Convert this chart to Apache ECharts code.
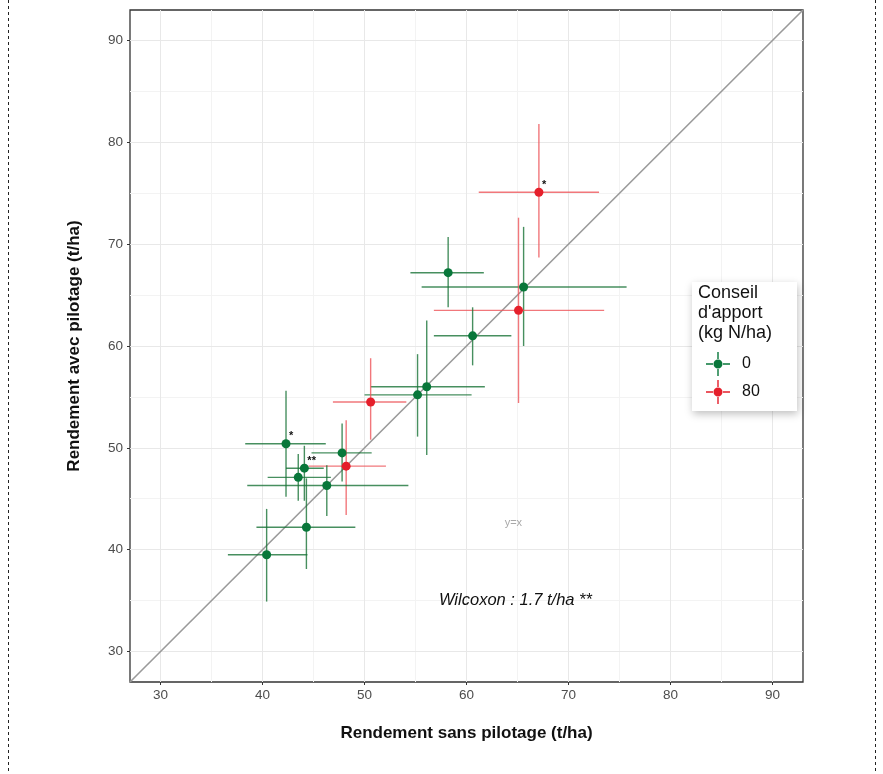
<!DOCTYPE html>
<html>
<head>
<meta charset="utf-8">
<script src="https://cdn.jsdelivr.net/npm/echarts@6/dist/echarts.min.js"></script>
<style>
html, body { margin: 0; padding: 0; background: #fff; }
#chart { width: 883px; height: 774px; }
</style>
</head>
<body>
<div id="chart"></div>
<script>
// donnees (t/ha)
var groups = ['80', '0', '0', '80', '0', '0', '0', '80', '0', '0', '80', '0', '0', '0', '0', '0'];
var sansPilotage = [67.1, 58.2, 65.6, 65.1, 60.6, 56.1, 55.2, 50.6, 42.3, 47.8, 48.2, 44.1, 43.5, 46.3, 44.3, 40.4];
var avecPilotage = [75.1, 67.2, 65.8, 63.5, 61.0, 56.0, 55.2, 54.5, 50.4, 49.5, 48.2, 48.0, 47.1, 46.3, 42.2, 39.5];
var xMin = [61.2, 54.5, 55.6, 56.8, 56.8, 50.6, 50.0, 46.9, 38.3, 44.8, 44.5, 42.3, 40.5, 38.5, 39.4, 36.6];
var xMax = [73.0, 61.7, 75.7, 73.5, 64.4, 61.8, 60.5, 54.1, 46.2, 50.7, 52.1, 46.0, 46.7, 54.3, 49.1, 44.4];
var yMin = [68.7, 63.8, 60.0, 54.4, 58.1, 49.3, 51.1, 50.8, 45.2, 46.7, 43.4, 44.8, 44.8, 43.3, 38.1, 34.9];
var yMax = [81.8, 70.7, 71.7, 72.6, 63.8, 62.5, 59.2, 58.8, 55.6, 52.4, 52.7, 50.2, 49.4, 48.3, 47.0, 44.0];
var stars = ['*', '', '', '', '', '', '', '', '*', '', '', '**', '', '', '', ''];
var majorTicks = [30, 40, 50, 60, 70, 80, 90];
var minorTicks = [35, 45, 55, 65, 75, 85];
var axisMin = 27, axisMax = 93;
// annotations: [x, y, texte]
var annotations = [[64.6, 42.6, 'y=x'], [64.8, 35.0, 'Wilcoxon : 1.7 t/ha **']];

var couleurs = { '0': '#08773a', '80': '#e51f2b' };
var couleursBarres = { '0': 'rgba(25,115,55,0.8)', '80': 'rgba(238,85,90,0.8)' };

var chart = echarts.init(document.getElementById('chart'));

// points par groupe
function pointsDe(g) {
  var out = [];
  for (var i = 0; i < groups.length; i++) {
    if (groups[i] === g) out.push([sansPilotage[i], avecPilotage[i]]);
  }
  return out;
}

var barres = [];
for (var i = 0; i < groups.length; i++) {
  barres.push([xMin[i], xMax[i], yMin[i], yMax[i], sansPilotage[i], avecPilotage[i]]);
}

// croix d'erreur + etoiles
function renderBarre(params, api) {
  var i = params.dataIndex;
  var g = groups[i];
  var x = api.value(4), y = api.value(5);
  var l = api.coord([api.value(0), y]);
  var r = api.coord([api.value(1), y]);
  var b = api.coord([x, api.value(2)]);
  var t = api.coord([x, api.value(3)]);
  var c = api.coord([x, y]);
  var style = { stroke: couleursBarres[g], lineWidth: 1.4 };
  var children = [
    { type: 'line', shape: { x1: l[0], y1: l[1], x2: r[0], y2: r[1] }, style: style },
    { type: 'line', shape: { x1: b[0], y1: b[1], x2: t[0], y2: t[1] }, style: style }
  ];
  if (stars[i]) {
    children.push({
      type: 'text',
      style: {
        text: stars[i], x: c[0] + 3, y: c[1] - 2,
        fill: '#111', font: 'bold 11px "Liberation Sans", Arial',
        textVerticalAlign: 'bottom'
      }
    });
  }
  return { type: 'group', children: children };
}

function renderTexte(params, api) {
  var i = params.dataIndex;
  var p = api.coord([api.value(0), api.value(1)]);
  var txt = annotations[i][2];
  var font = i === 0 ? '11px "Liberation Sans", Arial' : 'italic 16.5px "Liberation Sans", Arial';
  return {
    type: 'text',
    style: {
      text: txt, x: p[0], y: p[1], font: font,
      fill: i === 0 ? '#a8a8a8' : '#111',
      textAlign: 'center', textVerticalAlign: 'middle'
    }
  };
}

// grille majeure et mineure
var gridLines = [];
minorTicks.forEach(function (v) {
  gridLines.push({ xAxis: v, lineStyle: { color: '#f3f3f3', width: 1 } });
  gridLines.push({ yAxis: v, lineStyle: { color: '#f3f3f3', width: 1 } });
});
majorTicks.forEach(function (v) {
  gridLines.push({ xAxis: v, lineStyle: { color: '#e8e8e8', width: 1 } });
  gridLines.push({ yAxis: v, lineStyle: { color: '#e8e8e8', width: 1 } });
});

var iconCroix = 'path://M0 11.3h7v1.4h-7z M17 11.3h7v1.4h-7z M11.3 0h1.4v7h-1.4z M11.3 17h1.4v7h-1.4z ' +
  'M7.5 12a4.5 4.5 0 1 1 9 0a4.5 4.5 0 1 1 -9 0z';

function axe(nom, gap, margin) {
  return {
    type: 'value', min: axisMin, max: axisMax,
    name: nom,
    nameLocation: 'middle', nameGap: gap,
    nameTextStyle: { fontSize: 17, fontWeight: 'bold', color: '#111' },
    axisLine: { show: false },
    axisTick: { show: true, length: 3, lineStyle: { color: '#333' }, customValues: majorTicks },
    axisLabel: {
      color: '#4d4d4d', fontSize: 13.5, margin: margin, customValues: majorTicks,
      formatter: function (v) { return v % 10 === 0 ? v : ''; }
    },
    splitLine: { show: false }
  };
}

var option = {
  animation: false,
  backgroundColor: '#fff',
  textStyle: { fontFamily: '"Liberation Sans", Arial, sans-serif' },
  grid: {
    left: 130, top: 10, width: 673, height: 672,
    show: true, borderColor: '#333', borderWidth: 1.3, backgroundColor: '#fff'
  },
  xAxis: axe('Rendement sans pilotage (t/ha)', 43, 6),
  yAxis: axe('Rendement avec pilotage (t/ha)', 47, 7),
  legend: {
    orient: 'vertical', left: 701, top: 347,
    itemWidth: 24, itemHeight: 24, itemGap: 4,
    textStyle: { fontSize: 16, color: '#111', padding: [0, 0, 0, 7] },
    data: [{ name: '0', icon: iconCroix }, { name: '80', icon: iconCroix }],
    z: 20
  },
  graphic: [
    { type: 'line', shape: { x1: 8.5, y1: 0, x2: 8.5, y2: 774 }, style: { stroke: '#222', lineWidth: 1, lineDash: [3, 3] }, z: 1 },
    { type: 'line', shape: { x1: 875.5, y1: 0, x2: 875.5, y2: 774 }, style: { stroke: '#222', lineWidth: 1, lineDash: [3, 3] }, z: 1 },
    {
      type: 'rect', shape: { x: 692, y: 282, width: 105, height: 129 },
      style: { fill: '#fff', shadowBlur: 8, shadowColor: 'rgba(0,0,0,0.25)', shadowOffsetX: 1, shadowOffsetY: 3 },
      z: 10
    },
    {
      type: 'text', left: 698, top: 283, z: 11,
      style: {
        text: "Conseil\nd'apport\n(kg N/ha)", fill: '#111',
        font: '18px "Liberation Sans", Arial', lineHeight: 20
      }
    }
  ],
  series: [
    {
      type: 'line', name: 'y=x', silent: true, symbol: 'none',
      data: [[axisMin, axisMin], [axisMax, axisMax]],
      lineStyle: { color: '#9a9a9a', width: 1.6 },
      z: 1,
      markLine: {
        silent: true, symbol: 'none', label: { show: false },
        lineStyle: { type: 'solid' },
        data: gridLines,
        z: 0
      }
    },
    {
      type: 'custom', name: 'barres', silent: true,
      renderItem: renderBarre,
      data: barres,
      encode: { x: [0, 1, 4], y: [2, 3, 5] },
      z: 3
    },
    {
      type: 'custom', name: 'textes', silent: true,
      renderItem: renderTexte,
      data: annotations.map(function (a) { return [a[0], a[1]]; }),
      z: 4
    },
    {
      type: 'scatter', name: '0', data: pointsDe('0'),
      symbolSize: 9, itemStyle: { color: couleurs['0'], opacity: 1 }, z: 5
    },
    {
      type: 'scatter', name: '80', data: pointsDe('80'),
      symbolSize: 9, itemStyle: { color: couleurs['80'], opacity: 1 }, z: 5
    }
  ]
};

chart.setOption(option);
</script>
</body>
</html>
